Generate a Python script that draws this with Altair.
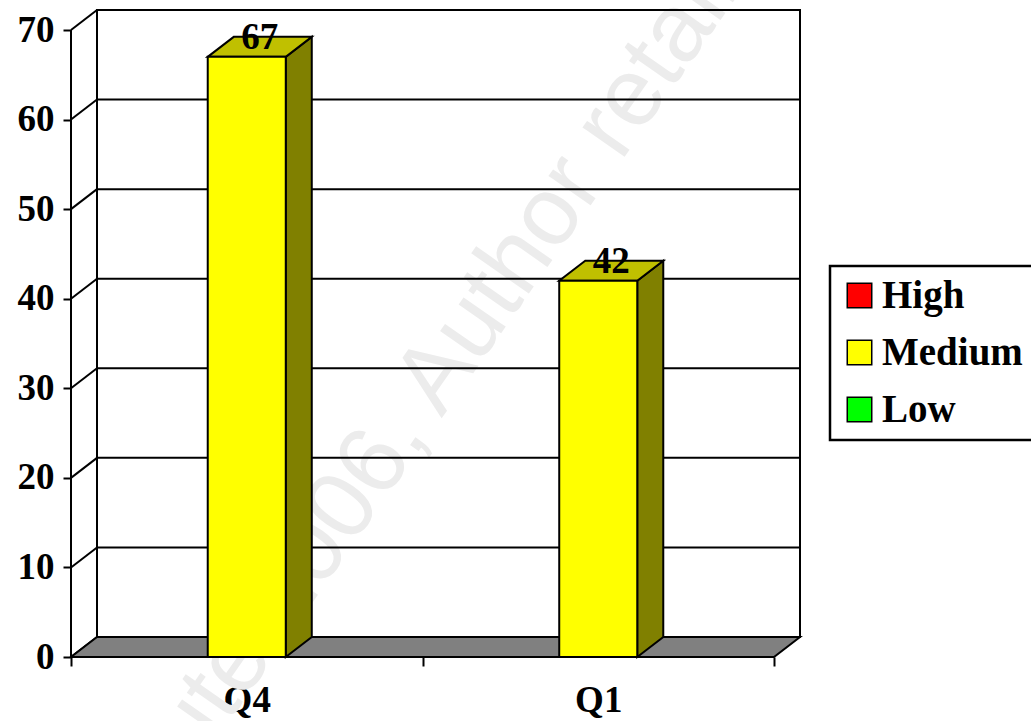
import altair as alt
import pandas as pd

# ---- data ----
categories = ["Q4", "Q1"]
values = [67, 42]
series = ["High", "Medium", "Low"]
series_colors = ["#FF0000", "#FFFF00", "#00FF00"]
bar_series = "Medium"
y_ticks = [0, 10, 20, 30, 40, 50, 60, 70]
watermark = ["\u00a9 SANS Institute 2006, Author retains full rights"]

# ---- layout / style ----
FRONT_W = 703      # px width of the front plane
FRONT_H = 627      # px height of the front plane (0..Y_MAX)
DEPTH_X = 26       # 3-D depth offset, px
DEPTH_Y = 20
Y_MAX = 70
BAR_FRAC = 0.222   # bar width as a fraction of a category slot
FONT = "Liberation Serif"
FS = 37

N = len(categories)
ux = FRONT_W / N
uy = FRONT_H / Y_MAX
ddx = DEPTH_X / ux
ddy = DEPTH_Y / uy
W = FRONT_W + DEPTH_X
H = FRONT_H + DEPTH_Y

xscale = alt.Scale(domain=[0, N + ddx], nice=False, zero=False)
yscale = alt.Scale(domain=[0, Y_MAX + ddy], nice=False, zero=False)

xaxis = alt.Axis(
    values=[k * 0.5 for k in range(2 * N + 1)],
    labelExpr="datum.value % 1 == 0.5 ? " + "[" + ",".join(f"'{c}'" for c in categories) + "][floor(datum.value)] : ''",
    domain=False, grid=False, ticks=True, tickSize=9, tickWidth=2, tickColor="black",
    tickOpacity={"condition": {"test": "datum.value % 1 != 0", "value": 0}, "value": 1},
    labelFont=FONT, labelFontWeight="bold", labelFontSize=FS, labelColor="black",
    labelPadding=16, labelOverlap=False, labelFlush=False, title=None,
)
yaxis = alt.Axis(
    values=y_ticks, domain=False, grid=False, ticks=True, tickSize=8, tickWidth=2,
    tickColor="black", labelFont=FONT, labelFontWeight="bold", labelFontSize=FS,
    labelColor="black", labelPadding=9, labelOverlap=False, labelFlush=False, title=None,
)


def X(f):
    return alt.X(f"{f}:Q", scale=xscale, axis=xaxis)


def Y(f):
    return alt.Y(f"{f}:Q", scale=yscale, axis=yaxis)


# ---- derived tables ----
centers = [i + 0.5 for i in range(N)]
half = BAR_FRAC / 2
bars = pd.DataFrame({
    "cat": categories,
    "series": [bar_series] * N,
    "x": [c - half for c in centers],
    "x2": [c + half for c in centers],
    "y": [0] * N,
    "y2": values,
    "lx": [c + ddx / 2 for c in centers],
    "ly": [v + ddy / 2 for v in values],
    "label": [str(v) for v in values],
})

side_rows, top_rows = [], []
for c, v, cat in zip(centers, values, categories):
    side_rows.append({"cat": cat, "x": c + half, "y": 0, "y2": v})
    side_rows.append({"cat": cat, "x": c + half + ddx, "y": ddy, "y2": v + ddy})
    top_rows.append({"cat": cat, "y": v, "x": c - half, "x2": c + half})
    top_rows.append({"cat": cat, "y": v + ddy, "x": c - half + ddx, "x2": c + half + ddx})
side = pd.DataFrame(side_rows)
top = pd.DataFrame(top_rows)

wall = pd.DataFrame({"x": [ddx], "x2": [N + ddx], "y": [ddy], "y2": [Y_MAX + ddy]})
grid = pd.DataFrame({"y": [v + ddy for v in y_ticks[1:-1]], "x": ddx, "x2": N + ddx})
diag = pd.DataFrame({"x": 0.0, "x2": ddx, "y": y_ticks, "y2": [v + ddy for v in y_ticks]})
floor = pd.DataFrame({"y": [0, ddy], "x": [0, ddx], "x2": [N, N + ddx]})
yline = pd.DataFrame({"x": [0.0], "y": [0], "y2": [Y_MAX]})
xline = pd.DataFrame({"x": [0.0], "x2": [N], "y": [0]})
wm = pd.DataFrame({"t": watermark})

# ---- layers ----
wm_layer = alt.Chart(wm).mark_text(
    font="Liberation Sans", fontSize=97, color="#ececec", angle=305,
    align="center", baseline="alphabetic",
).encode(x=alt.value(370), y=alt.value(409), text="t:N")

wall_layer = alt.Chart(wall).mark_rect(filled=False, stroke="black", strokeWidth=2).encode(
    x=X("x"), x2="x2", y=Y("y"), y2="y2")
grid_layer = alt.Chart(grid).mark_rule(color="black", strokeWidth=2).encode(
    x=X("x"), x2="x2", y=Y("y"))
diag_layer = alt.Chart(diag).mark_rule(color="black", strokeWidth=2).encode(
    x=X("x"), x2="x2", y=Y("y"), y2="y2")
floor_layer = alt.Chart(floor).mark_area(
    orient="horizontal", color="#808080", stroke="black", strokeWidth=2, opacity=1
).encode(y=Y("y"), x=X("x"), x2="x2")
side_layer = alt.Chart(side).mark_area(
    orient="vertical", color="#808000", stroke="black", strokeWidth=2, opacity=1
).encode(x=X("x"), y=Y("y"), y2="y2", detail="cat:N")
top_layer = alt.Chart(top).mark_area(
    orient="horizontal", color="#C0C000", stroke="black", strokeWidth=2, opacity=1
).encode(y=Y("y"), x=X("x"), x2="x2", detail="cat:N")
front_layer = alt.Chart(bars).mark_rect(stroke="black", strokeWidth=2, opacity=1).encode(
    x=X("x"), x2="x2", y=Y("y"), y2="y2",
    color=alt.Color("series:N", scale=alt.Scale(domain=series, range=series_colors),
                    legend=alt.Legend(
                        orient="none", legendX=759, legendY=256, title=None,
                        padding=10, rowPadding=17, labelOffset=3,
                        symbolType="square", symbolSize=600, symbolStrokeColor="black",
                        symbolStrokeWidth=1.5, symbolOpacity=1,
                        labelFont=FONT, labelFontWeight="bold", labelFontSize=39,
                        labelColor="black", strokeColor="black", fillColor="white",
                    )),
)
yline_layer = alt.Chart(yline).mark_rule(color="black", strokeWidth=2).encode(
    x=X("x"), y=Y("y"), y2="y2")
xline_layer = alt.Chart(xline).mark_rule(color="black", strokeWidth=2).encode(
    x=X("x"), x2="x2", y=Y("y"))
label_layer = alt.Chart(bars).mark_text(
    font=FONT, fontWeight="bold", fontSize=FS, color="black",
    align="center", baseline="middle", dy=-9,
).encode(x=X("lx"), y=Y("ly"), text="label:N")

chart = alt.layer(
    wm_layer, wall_layer, grid_layer, diag_layer, floor_layer,
    side_layer, top_layer, front_layer, yline_layer, xline_layer, label_layer,
).properties(
    width=W, height=H,
    autosize=alt.AutoSizeParams(type="none"),
    padding={"left": 71, "top": 10, "right": 1031 - 71 - W, "bottom": 721 - 10 - H},
    background="white",
).configure_view(stroke=None).configure_legend(strokeWidth=2.5)

chart.save("out.html", embed_options={"renderer": "svg", "actions": False})
